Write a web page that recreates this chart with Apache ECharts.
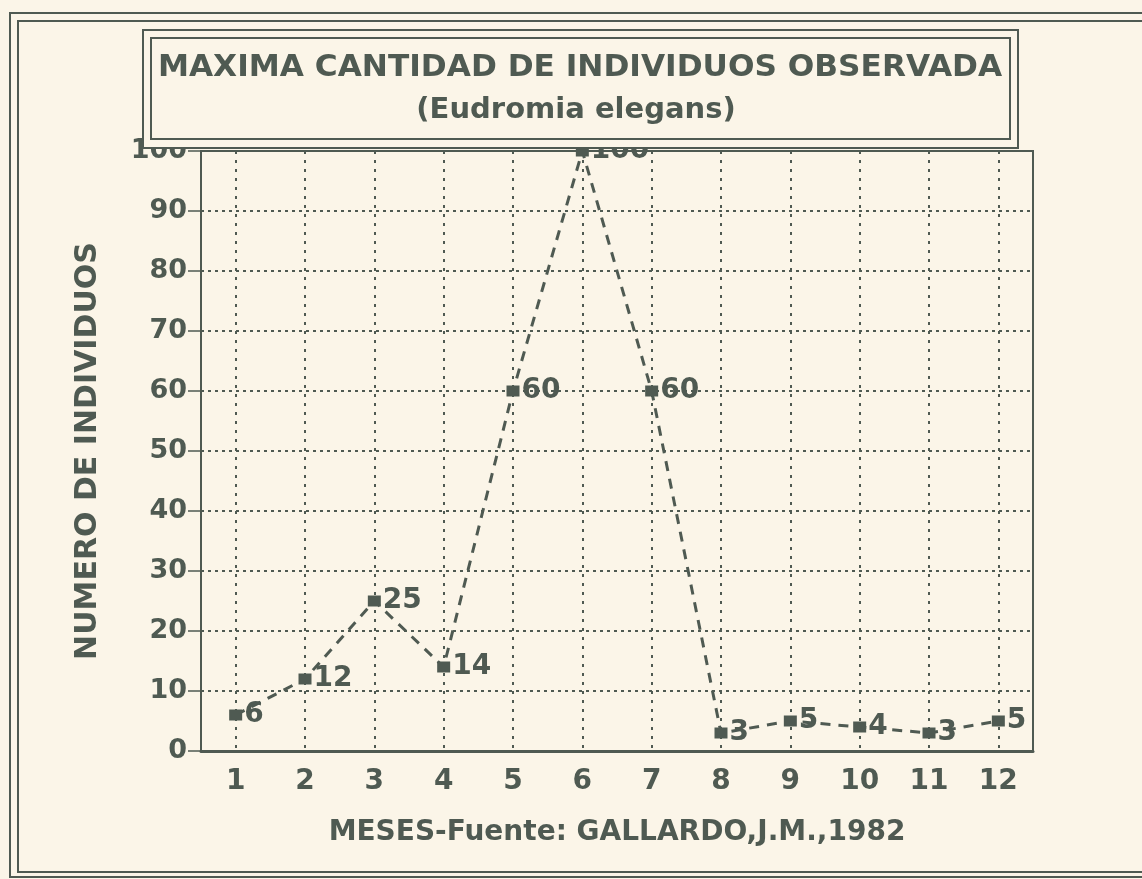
<!DOCTYPE html>
<html>
<head>
<meta charset="utf-8">
<script src="https://cdn.jsdelivr.net/npm/echarts@6/dist/echarts.min.js"></script>
<style>
html,body{margin:0;padding:0;background:#fbf5e8;}
#c{width:1142px;height:879px;}
</style>
</head>
<body>
<div id="c"></div>
<script>
const months = ['1','2','3','4','5','6','7','8','9','10','11','12'];
const individuos = [6, 12, 25, 14, 60, 100, 60, 3, 5, 4, 3, 5];
const titleText = 'MAXIMA CANTIDAD DE INDIVIDUOS OBSERVADA';
const subtitleText = '(Eudromia elegans)';
const yName = 'NUMERO DE INDIVIDUOS';
const xName = 'MESES-Fuente: GALLARDO,J.M.,1982';

const ink = '#4f5a52';
const bg = '#fbf5e8';
const font = 'DejaVu Sans, Verdana, sans-serif';

const chart = echarts.init(document.getElementById('c'), null, {renderer: 'canvas'});
chart.setOption({
  backgroundColor: bg,
  animation: false,
  graphic: [
    {type: 'rect', z: 100, shape: {x: 10, y: 13, width: 1140, height: 864}, style: {fill: 'none', stroke: ink, lineWidth: 2}},
    {type: 'rect', z: 100, shape: {x: 18, y: 21, width: 1130, height: 851}, style: {fill: 'none', stroke: ink, lineWidth: 2}},
    {type: 'rect', z: 100, shape: {x: 143, y: 30, width: 875, height: 118}, style: {fill: bg, stroke: ink, lineWidth: 2}},
    {type: 'rect', z: 101, shape: {x: 151, y: 38, width: 859, height: 101}, style: {fill: 'none', stroke: ink, lineWidth: 2}},
    {type: 'text', z: 102, x: 580, y: 68, scaleX: 1.04, style: {text: titleText, font: 'bold 30px ' + font, fill: ink, textAlign: 'center', textVerticalAlign: 'middle'}},
    {type: 'text', z: 102, x: 576, y: 110, style: {text: subtitleText, font: 'bold 29px ' + font, fill: ink, textAlign: 'center', textVerticalAlign: 'middle'}}
  ],
  grid: {left: 201, top: 151, width: 832, height: 600, show: true, borderColor: ink, borderWidth: 2, backgroundColor: 'transparent'},
  xAxis: {
    type: 'category',
    data: months,
    boundaryGap: true,
    name: xName,
    nameLocation: 'middle',
    nameGap: 68,
    nameTextStyle: {color: ink, fontSize: 28, fontWeight: 'bold', fontFamily: font},
    axisLine: {lineStyle: {color: ink, width: 3}},
    axisTick: {alignWithLabel: true, length: 11, lineStyle: {color: ink, width: 1.5, type: [3, 2]}},
    axisLabel: {color: ink, fontSize: 28, fontWeight: 'bold', fontFamily: font, margin: 17},
    splitLine: {show: true, alignWithLabel: true, lineStyle: {color: ink, width: 2, type: [3, 6]}}
  },
  yAxis: {
    type: 'value',
    min: 0, max: 100, interval: 10,
    name: yName,
    nameLocation: 'middle',
    nameGap: 98,
    nameTextStyle: {color: ink, fontSize: 30, fontWeight: 'bold', fontFamily: font},
    axisLine: {show: true, lineStyle: {color: ink, width: 1.5}},
    axisTick: {show: true, inside: false, length: 13, lineStyle: {color: ink, width: 1.5}},
    axisLabel: {color: ink, fontSize: 27, fontWeight: 'bold', fontFamily: font, margin: 14},
    splitLine: {show: true, lineStyle: {color: ink, width: 2, type: [3, 4]}}
  },
  series: [{
    type: 'line',
    data: individuos,
    symbol: 'rect',
    symbolSize: [13, 11],
    itemStyle: {color: ink},
    lineStyle: {color: ink, width: 3, type: [10, 8]},
    label: {show: true, position: 'right', distance: 2, color: ink, fontSize: 28, fontWeight: 'bold', fontFamily: font}
  }]
});
</script>
</body>
</html>
